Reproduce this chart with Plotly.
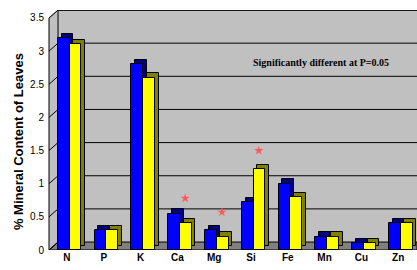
import plotly.graph_objects as go

categories = ["N", "P", "K", "Ca", "Mg", "Si", "Fe", "Mn", "Cu", "Zn"]
series_a = [3.2, 0.3, 2.8, 0.55, 0.3, 0.72, 1.0, 0.2, 0.1, 0.4]
series_b = [3.1, 0.3, 2.6, 0.4, 0.2, 1.22, 0.8, 0.2, 0.1, 0.4]
star_categories = ["Ca", "Mg", "Si"]
star_values = [0.78, 0.57, 1.5]
y_ticks = [0, 0.5, 1, 1.5, 2, 2.5, 3, 3.5]
y_tick_labels = ["0", "0.5", "1", "1.5", "2", "2.5", "3", "3.5"]

pos = list(range(len(categories)))
idx = {c: i for i, c in enumerate(categories)}

W = 0.32
DX = 0.1
DY = 0.065
BACK = 0.12      # depth of the back wall in value units
WALL = 0.0245    # depth of left wall in paper units
YMAX = y_ticks[-1] + BACK

fig = go.Figure()

# floor
fig.add_shape(type="path", xref="paper", yref="y",
              path=f"M 0,0 L {WALL},{BACK} L 1,{BACK} L 1,0 Z",
              fillcolor="#808080", line=dict(color="black", width=1), layer="below")
# back wall grid lines
for t in y_ticks[1:]:
    fig.add_shape(type="line", xref="paper", yref="y", x0=WALL, x1=1, y0=t + BACK, y1=t + BACK,
                  line=dict(color="black", width=1), layer="below")
# left wall
fig.add_shape(type="path", xref="paper", yref="y",
              path=f"M 0,0 L 0,{y_ticks[-1]} L {WALL},{YMAX} L {WALL},{BACK} Z",
              fillcolor="#c0c0c0", line=dict(color="black", width=1), layer="below")
fig.add_shape(type="path", xref="paper", yref="y",
              path=f"M 0,{y_ticks[-1]} L 0,{YMAX} L {WALL},{YMAX} Z",
              fillcolor="white", line=dict(width=0), layer="below")
for t in y_ticks:
    fig.add_shape(type="line", xref="paper", yref="y", x0=0, x1=WALL, y0=t, y1=t + BACK,
                  line=dict(color="black", width=1), layer="below")
# back wall top edge
fig.add_shape(type="line", xref="paper", yref="y", x0=WALL, x1=1, y0=YMAX, y1=YMAX,
              line=dict(color="black", width=1.5), layer="below")


def add_series(vals, off, face, side):
    fig.add_trace(go.Bar(x=pos, y=vals, base=[DY] * len(vals), offset=off + DX, width=W,
                         marker=dict(color=side, line=dict(color="black", width=1)),
                         hoverinfo="skip", showlegend=False))
    fig.add_trace(go.Bar(x=pos, y=vals, offset=off, width=W,
                         marker=dict(color=face, line=dict(color="black", width=1)),
                         showlegend=False))


add_series(series_a, -0.33, "#0000ff", "#000080")
add_series(series_b, -0.01, "#ffff00", "#808000")

fig.add_trace(go.Scatter(x=[idx[c] + 0.13 for c in star_categories], y=star_values, mode="markers",
                         marker=dict(symbol="star", size=7, color="#ff5a5a"), showlegend=False))

fig.add_annotation(text="<b>Significantly different at P=0.05</b>", xref="paper", yref="paper",
                   x=0.74, y=0.78, xanchor="center", yanchor="middle", showarrow=False,
                   font=dict(family="Liberation Serif", size=10, color="black"))

fig.add_annotation(text="<b>% Mineral Content of Leaves</b>", xref="paper", yref="paper",
                   x=-0.084, y=0.45, xanchor="center", yanchor="middle", textangle=-90,
                   showarrow=False, font=dict(family="Liberation Sans", size=13, color="black"))

fig.update_layout(
    width=417, height=270,
    margin=dict(l=49, r=0, t=10, b=20),
    paper_bgcolor="white", plot_bgcolor="#c0c0c0",
    barmode="overlay",
    bargap=0,
    xaxis=dict(range=[-0.57, 9.43], tickmode="array", tickvals=pos,
               ticktext=["<b>%s</b>" % c for c in categories],
               tickfont=dict(family="Liberation Sans", size=10, color="black"),
               showgrid=False, showline=False, ticks="", zeroline=False,
               ticklabelshift=-3, automargin=False),
    yaxis=dict(range=[0, YMAX], tickmode="array", tickvals=y_ticks, ticktext=y_tick_labels,
               tickfont=dict(family="Liberation Sans", size=10, color="black"),
               showgrid=False, showline=False, ticks="", zeroline=False,
               ticklabelstandoff=4, automargin=False),
    font=dict(family="Liberation Sans"),
)

fig.write_html("out.html", config={"displayModeBar": False},
               post_script="document.body.style.margin='0';")
